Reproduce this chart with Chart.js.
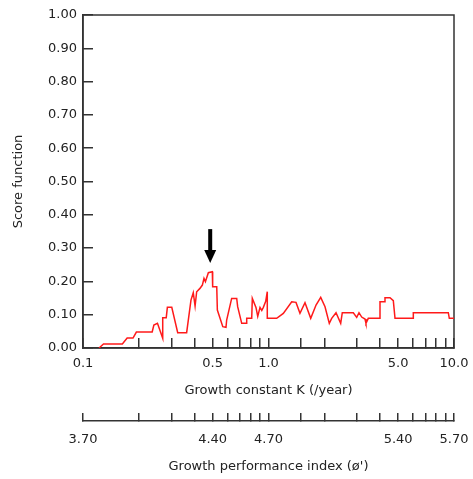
<!DOCTYPE html>
<html lang="en">
<head>
  <meta charset="UTF-8">
  <title>Score function</title>
  <script src="https://cdn.jsdelivr.net/npm/chart.js"></script>
  <style>
    body { margin: 0; background: #fff; }
    canvas { display: block; }
  </style>
</head>
<body>
  <canvas id="chart" width="473" height="479"></canvas>

  <script>
    // Score function against growth constant K
    const kValues = [
      0.122, 0.129, 0.163, 0.173, 0.186, 0.194, 0.236, 0.241, 0.252, 0.269,
      0.269, 0.281, 0.285, 0.301, 0.324, 0.362, 0.382, 0.393, 0.402, 0.410,
      0.427, 0.440, 0.449, 0.457, 0.474, 0.498, 0.500, 0.526, 0.530, 0.567,
      0.590, 0.595, 0.633, 0.674, 0.682, 0.717, 0.763, 0.763, 0.812, 0.818,
      0.856, 0.875, 0.900, 0.920, 0.938, 0.966, 0.985, 0.985, 1.107, 1.202,
      1.334, 1.407, 1.478, 1.573, 1.689, 1.804, 1.912, 2.017, 2.127, 2.191,
      2.312, 2.450, 2.499, 2.865, 2.989, 3.075, 3.180, 3.313, 3.354, 3.451,
      3.991, 3.991, 4.210, 4.246, 4.519, 4.708, 4.808, 6.035, 6.035, 9.318,
      9.434, 10.0
    ];
    const scores = [
      0.000, 0.012, 0.012, 0.030, 0.030, 0.048, 0.048, 0.069, 0.074, 0.029,
      0.091, 0.091, 0.122, 0.122, 0.046, 0.046, 0.144, 0.166, 0.126, 0.169,
      0.179, 0.189, 0.209, 0.199, 0.226, 0.229, 0.184, 0.184, 0.114, 0.064,
      0.062, 0.084, 0.149, 0.149, 0.124, 0.074, 0.074, 0.089, 0.089, 0.149,
      0.122, 0.095, 0.122, 0.113, 0.122, 0.140, 0.169, 0.089, 0.089, 0.104,
      0.139, 0.137, 0.104, 0.136, 0.089, 0.129, 0.152, 0.124, 0.074, 0.089,
      0.106, 0.074, 0.106, 0.106, 0.092, 0.106, 0.093, 0.087, 0.074, 0.089,
      0.089, 0.139, 0.139, 0.151, 0.151, 0.142, 0.089, 0.089, 0.106, 0.106,
      0.089, 0.089
    ];

    // labelled ticks on the two horizontal axes
    const kLabelTicks = [0.1, 0.5, 1, 5, 10];
    const kLabels = ['0.1', '0.5', '1.0', '5.0', '10.0'];
    const phiLabels = ['3.70', '4.40', '4.70', '5.40', '5.70'];

    // arrow marking the best K
    const arrowK = 0.485;
    const arrowFrom = 0.357;
    const arrowTo = 0.255;

    const axisColor = '#333';
    const textColor = '#222';
    const font = { family: 'DejaVu Sans', size: 13 };

    function labelFor(value, labels) {
      const i = kLabelTicks.findIndex(t => Math.abs(Math.log10(t) - Math.log10(value)) < 1e-6);
      return i >= 0 ? labels[i] : '';
    }

    // the big tick paddings would otherwise push the plot inwards
    function noOverflow(scale) {
      scale.paddingLeft = 0;
      scale.paddingRight = 0;
      scale.paddingTop = 0;
      scale.paddingBottom = 0;
    }

    // full frame round the plot
    const framePlugin = {
      id: 'frame',
      beforeDatasetsDraw(chart) {
        const { ctx, chartArea: a } = chart;
        ctx.save();
        ctx.strokeStyle = axisColor;
        ctx.lineWidth = 1.5;
        ctx.strokeRect(a.left, a.top, a.right - a.left, a.bottom - a.top);
        ctx.restore();
      }
    };

    const arrowPlugin = {
      id: 'arrow',
      afterDatasetsDraw(chart) {
        const { ctx, scales } = chart;
        const x = scales.x.getPixelForValue(arrowK);
        const y1 = scales.y.getPixelForValue(arrowFrom);
        const y2 = scales.y.getPixelForValue(arrowTo);
        ctx.save();
        ctx.fillStyle = '#000';
        ctx.fillRect(x - 2, y1, 4, y2 - y1 - 12);
        ctx.beginPath();
        ctx.moveTo(x - 6, y2 - 13);
        ctx.lineTo(x + 6, y2 - 13);
        ctx.lineTo(x, y2);
        ctx.closePath();
        ctx.fill();
        ctx.restore();
      }
    };

    new Chart(document.getElementById('chart'), {
      type: 'line',
      data: {
        datasets: [{
          data: kValues.map((k, i) => ({ x: k, y: scores[i] })),
          borderColor: '#ff1a1a',
          borderWidth: 1.5,
          pointRadius: 0,
          tension: 0,
          fill: false
        }]
      },
      options: {
        responsive: false,
        animation: false,
        layout: { padding: { top: 15, right: 19, left: 0, bottom: 0 } },
        plugins: { legend: { display: false }, tooltip: { enabled: false } },
        scales: {
          x: {
            type: 'logarithmic',
            min: 0.1,
            max: 10,
            position: 'bottom',
            weight: 0,
            border: { color: axisColor, width: 1.5 },
            grid: { drawOnChartArea: false, tickLength: -10, color: axisColor, lineWidth: 1.5 },
            ticks: {
              autoSkip: false,
              maxRotation: 0,
              padding: 18,
              color: textColor,
              font: font,
              callback: v => labelFor(v, kLabels)
            },
            title: {
              display: true,
              text: 'Growth constant K (/year)',
              color: textColor,
              font: font,
              padding: { top: 0, bottom: 23 }
            },
            afterFit(scale) { scale.height = 73; noOverflow(scale); }
          },
          x2: {
            type: 'logarithmic',
            min: 0.1,
            max: 10,
            position: 'bottom',
            weight: 1,
            border: { color: axisColor, width: 1.5 },
            grid: { drawOnChartArea: false, tickLength: -8, color: axisColor, lineWidth: 1.5 },
            ticks: {
              autoSkip: false,
              maxRotation: 0,
              padding: 19,
              color: textColor,
              font: font,
              callback: v => labelFor(v, phiLabels)
            },
            title: {
              display: true,
              text: "Growth performance index (ø')",
              color: textColor,
              font: font,
              padding: { top: 0, bottom: 5 }
            },
            afterFit(scale) { scale.height = 58; noOverflow(scale); }
          },
          y: {
            min: 0,
            max: 1,
            border: { color: axisColor, width: 1.5 },
            grid: { drawOnChartArea: false, tickLength: -10, color: axisColor, lineWidth: 1.5 },
            ticks: {
              stepSize: 0.1,
              padding: 16,
              color: textColor,
              font: font,
              callback: v => v.toFixed(2)
            },
            title: {
              display: true,
              text: 'Score function',
              color: textColor,
              font: font,
              padding: { top: 11, bottom: 0 }
            },
            afterFit(scale) { scale.width = 83; noOverflow(scale); }
          }
        }
      },
      plugins: [framePlugin, arrowPlugin]
    });
  </script>
</body>
</html>
